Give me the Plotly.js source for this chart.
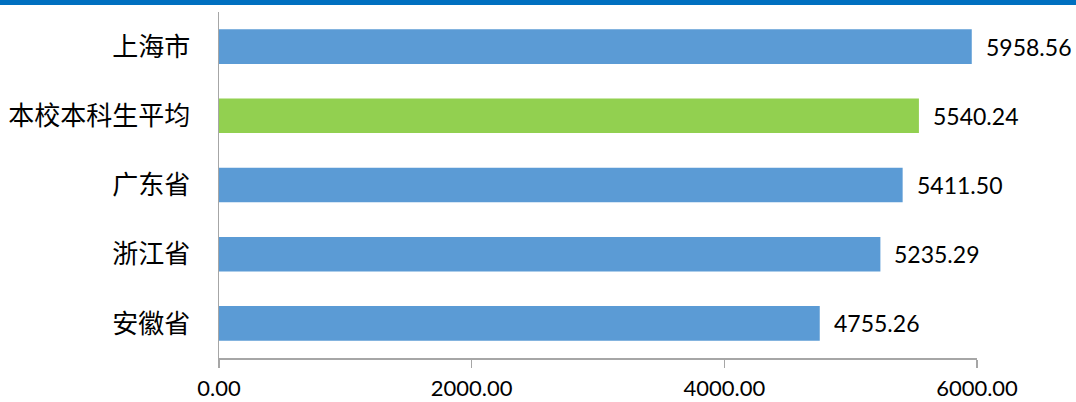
<!DOCTYPE html>
<html>
<head>
<meta charset="utf-8">
<script src="https://cdn.plot.ly/plotly-3.0.1.min.js"></script>
<style>html,body{margin:0;padding:0;background:#fff;}#chart{width:1076px;height:402px;}</style>
</head>
<body>
<div id="chart"></div>
<script>
const categories = ["上海市", "本校本科生平均", "广东省", "浙江省", "安徽省"];
const values = [5958.56, 5540.24, 5411.50, 5235.29, 4755.26];
const barColors = ["#5B9BD5", "#92D050", "#5B9BD5", "#5B9BD5", "#5B9BD5"];
const tickVals = [0, 2000, 4000, 6000];
const tickText = ["0.00", "2000.00", "4000.00", "6000.00"];

const trace = {
  type: "bar",
  orientation: "h",
  y: categories,
  x: values,
  marker: {color: barColors},
  hoverinfo: "none"
};

const annotations = categories.map((c, i) => ({
  x: values[i], y: c, xref: "x", yref: "y",
  text: values[i].toFixed(2), showarrow: false,
  xanchor: "left", xshift: 12,
  font: {family: "Lato, 'Open Sans', sans-serif", size: 23, color: "#000"}
}));

const layout = {
  width: 1076, height: 402,
  margin: {l: 219, r: 99, t: 12, b: 44, pad: 0},
  paper_bgcolor: "#fff", plot_bgcolor: "#fff",
  showlegend: false,
  bargap: 0.5,
  xaxis: {
    range: [0, 6000], tickvals: tickVals, ticktext: tickText,
    showgrid: false, zeroline: false,
    showline: true, linecolor: "#A6A6A6", linewidth: 1.5,
    ticks: "outside", ticklen: 8, tickcolor: "#A6A6A6", tickwidth: 1.5,
    tickfont: {family: "Lato, 'Open Sans', sans-serif", size: 22, color: "#000"},
    ticklabelstandoff: 2
  },
  yaxis: {
    type: "category", autorange: "reversed",
    showgrid: false, zeroline: false,
    showline: true, linecolor: "#A6A6A6", linewidth: 1.5,
    ticks: "",
    tickfont: {family: "'Noto Sans CJK SC', sans-serif", size: 26, color: "#000"},
    ticklabelstandoff: 22
  },
  annotations: annotations,
  shapes: [{
    type: "rect", xref: "paper", yref: "paper",
    x0: -0.3, x1: 1.2, y0: 1 + 7/346, y1: 1 + 14/346,
    fillcolor: "#0070C0", line: {width: 0}
  }]
};

Plotly.newPlot("chart", [trace], layout, {displayModeBar: false, staticPlot: true});
</script>
</body>
</html>
